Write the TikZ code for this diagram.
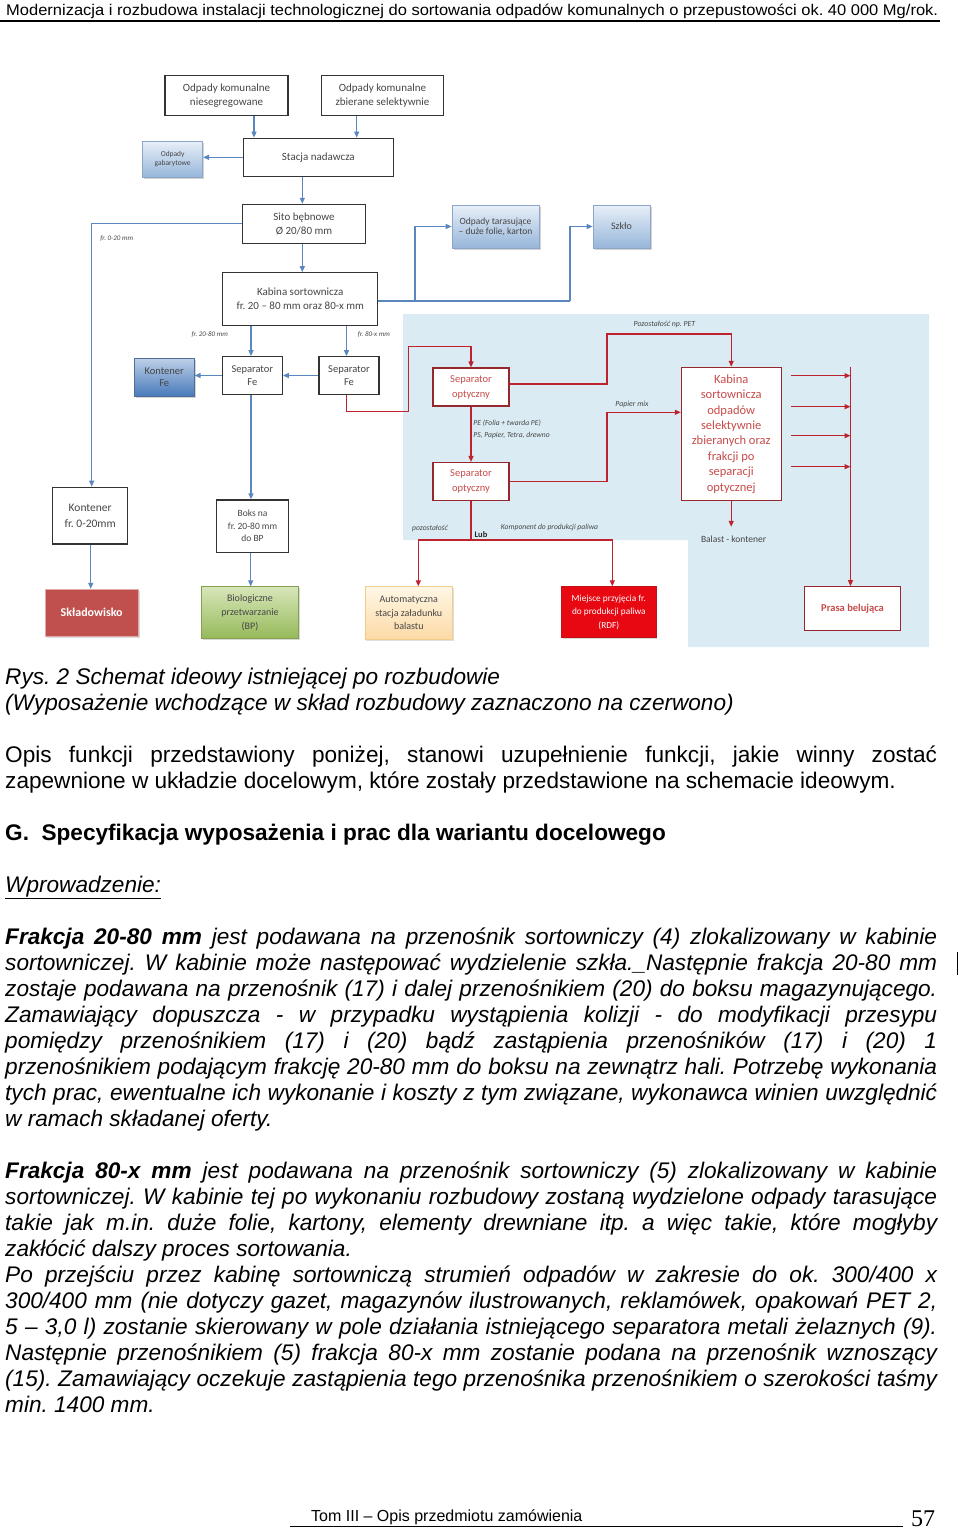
\documentclass[tikz,border=0pt]{standalone}
\usepackage{fontspec}
\usepackage{graphicx}
\setmainfont{Liberation Sans}
\newfontfamily\diag{Carlito}
\newfontfamily\pgnum{Liberation Serif}
\usetikzlibrary{arrows.meta,shadows}
\definecolor{bluec}{RGB}{90,135,190}
\definecolor{redc}{RGB}{190,35,45}
\definecolor{redb}{RGB}{150,40,45}
\definecolor{redt}{RGB}{200,75,75}
\definecolor{bgblue}{RGB}{218,235,243}
\definecolor{gtxt}{RGB}{70,70,70}
\begin{document}
\frenchspacing
\begin{tikzpicture}[x=1pt,y=-1pt,
  bline/.style={draw=bluec,line width=1.3pt},
  barrow/.style={bline,-{Triangle[length=6pt,width=5pt]}},
  rline/.style={draw=redc,line width=1.3pt},
  rarrow/.style={rline,-{Triangle[length=6pt,width=5pt]}},
  sz/.style 2 args={minimum width=#1pt,minimum height=#2pt},
  bx/.style={draw=black!80,line width=1.1pt,fill=white,text=gtxt,align=center,inner sep=0pt,
    font=\diag\fontsize{11}{14}\selectfont},
  rbx/.style={draw=redb,line width=1.1pt,fill=white,text=redt,align=center,inner sep=0pt,
    font=\diag\fontsize{10.5}{15}\selectfont},
  blubx/.style={draw={rgb,255:red,140;green,165;blue,200},line width=0.6pt,
    top color={rgb,255:red,232;green,239;blue,248},bottom color={rgb,255:red,150;green,182;blue,218},
    text=gtxt,align=center,inner sep=0pt,
    drop shadow={shadow xshift=1.5pt,shadow yshift=-1.5pt,opacity=0.35}},
  lab/.style={inner sep=0pt,text=gtxt,font=\diag\itshape\fontsize{7}{8}\selectfont},
  tl/.style={anchor=base west,inner sep=0pt,font=\fontsize{22.6}{26}\selectfont\itshape}
]
\useasboundingbox (0,0) rectangle (960,1529);

% ---------- header ----------
\node[anchor=base west,inner sep=0pt] (hdr) at (6,15)
  {\resizebox{932pt}{\height}{\fontsize{15.5}{18}\selectfont Modernizacja i rozbudowa instalacji technologicznej do sortowania odpadów komunalnych o przepustowości ok. 40 000 Mg/rok.}};
\draw[line width=2pt] (0,20.5) -- (940,20.5);

% ---------- light blue area ----------
\fill[bgblue] (403,314) -- (929,314) -- (929,647) -- (688,647) -- (688,540) -- (403,540) -- cycle;

% ---------- diagram nodes ----------
\node[bx,sz={123}{40}] (nk1) at (226.5,95.5) {Odpady komunalne\\niesegregowane};
\node[bx,sz={122}{40}] (nk2) at (382.5,95.5) {Odpady komunalne\\zbierane selektywnie};
\node[bx,sz={150}{38}] (stacja) at (318.3,157.2) {Stacja nadawcza};
\node[blubx,sz={60}{36},font=\diag\fontsize{7.5}{9}\selectfont] (gab) at (172.7,159.2) {Odpady\\gabarytowe};
\node[bx,sz={123}{39}] (sito) at (304,223.8) {Sito bębnowe\\Ø 20/80 mm};
\node[bx,sz={155}{53}] (kab1) at (300.2,299.2) {Kabina sortownicza\\fr. 20 – 80 mm oraz 80-x mm};
\node[blubx,sz={87}{43},font=\diag\fontsize{9.5}{10}\selectfont] (tar) at (495.5,226.5) {Odpady tarasujące\\– duże folie, karton};
\node[blubx,sz={57}{43},font=\diag\fontsize{10}{12}\selectfont] (szk) at (621.5,226.5) {Szkło};
\node[bx,sz={60}{37.6},font=\diag\fontsize{10.5}{13}\selectfont] (sfe1) at (252.3,375.5) {Separator\\Fe};
\node[bx,sz={60}{37.6},font=\diag\fontsize{10.5}{13}\selectfont] (sfe2) at (349,375.5) {Separator\\Fe};
\node[blubx,sz={60}{38.4},font=\diag\fontsize{10.5}{12}\selectfont,
  top color={rgb,255:red,190;green,208;blue,232},bottom color={rgb,255:red,70;green,120;blue,185},
  draw={rgb,255:red,80;green,110;blue,150}] (kfe) at (164.2,377.5) {Kontener\\Fe};
\node[bx,sz={75}{56.7},font=\diag\fontsize{11.5}{16}\selectfont] (k020) at (90.2,515.6) {Kontener\\fr. 0-20mm};
\node[bx,sz={71.6}{52.3},font=\diag\fontsize{9.5}{12.5}\selectfont] (boks) at (252.5,526.1) {Boks na\\fr. 20-80 mm\\do BP};
\node[rbx,sz={76}{38}] (sop1) at (471,387) {Separator\\optyczny};
\node[rbx,sz={76}{38}] (sop2) at (471,481.5) {Separator\\optyczny};
\node[rbx,sz={99.7}{133.4},font=\diag\fontsize{12.5}{15.4}\selectfont] (kab2) at (731.2,434)
  {Kabina\\sortownicza\\odpadów\\selektywnie\\zbieranych oraz\\frakcji po\\separacji\\optycznej};
\node[rbx,sz={96.4}{44},font=\diag\bfseries\fontsize{10.5}{13}\selectfont] (prasa) at (852.5,608.7) {Prasa belująca};
\node[sz={93.3}{46.7},fill={rgb,255:red,192;green,80;blue,77},draw={rgb,255:red,225;green,170;blue,168},line width=1pt,
  text=white,font=\diag\bfseries\fontsize{12}{14}\selectfont,inner sep=0pt,
  drop shadow={shadow xshift=1.5pt,shadow yshift=-1.5pt,opacity=0.3}] (skl) at (91.7,612.7) {Składowisko};
\node[sz={96.6}{51.6},top color={rgb,255:red,215;green,230;blue,185},bottom color={rgb,255:red,150;green,186;blue,90},
  draw={rgb,255:red,130;green,160;blue,80},line width=0.6pt,text=gtxt,align=center,inner sep=0pt,
  font=\diag\fontsize{10}{14}\selectfont,
  drop shadow={shadow xshift=1.5pt,shadow yshift=-1.5pt,opacity=0.3}] (bio) at (250,612.5) {Biologiczne\\przetwarzanie\\(BP)};
\node[sz={87.7}{52.6},top color={rgb,255:red,255;green,247;blue,230},bottom color={rgb,255:red,252;green,218;blue,165},
  draw={rgb,255:red,240;green,205;blue,140},line width=0.8pt,text=gtxt,align=center,inner sep=0pt,
  font=\diag\fontsize{10}{13.5}\selectfont,
  drop shadow={shadow xshift=1.5pt,shadow yshift=-1.5pt,opacity=0.25}] (auto) at (408.8,613) {Automatyczna\\stacja załadunku\\balastu};
\node[sz={94.3}{50.6},fill={rgb,255:red,232;green,8;blue,18},draw={rgb,255:red,190;green,20;blue,25},line width=0.8pt,
  text=white,align=center,inner sep=0pt,font=\diag\fontsize{9.3}{13.5}\selectfont,
  drop shadow={shadow xshift=1.5pt,shadow yshift=-1.5pt,opacity=0.3}] (rdf) at (608.8,612) {Miejsce przyjęcia fr.\\do produkcji paliwa\\(RDF)};
\node[inner sep=0pt,sz={70}{24},text=gtxt,font=\diag\fontsize{9.5}{11}\selectfont] (balast) at (733.6,539) {Balast - kontener};

% ---------- labels ----------
\node[lab] (l1) at (116.7,238.3) {fr. 0-20 mm};
\node[lab] (l2) at (209.7,335) {fr. 20-80 mm};
\node[lab] (l3) at (373.8,335) {fr. 80-x mm};
\node[lab,font=\diag\itshape\fontsize{7.8}{9}\selectfont] (l4) at (664.5,324) {Pozostałość np. PET};
\node[lab,font=\diag\itshape\fontsize{7.8}{9}\selectfont] (l5) at (632,404) {Papier mix};
\node[lab,anchor=west,font=\diag\itshape\fontsize{7.6}{9}\selectfont] (l6) at (473.2,423.3) {PE (Folia + twarda PE)};
\node[lab,anchor=west,font=\diag\itshape\fontsize{7.6}{9}\selectfont] (l7) at (473.2,435) {PS, Papier, Tetra, drewno};
\node[lab,font=\diag\itshape\fontsize{7.6}{9}\selectfont] (l8) at (430,528.3) {pozostałość};
\node[inner sep=0pt,text=black!85,font=\diag\bfseries\fontsize{8.5}{10}\selectfont] (lub) at (481,535) {Lub};
\node[lab,font=\diag\itshape\fontsize{7.6}{9}\selectfont] (l9) at (549.5,528) {Komponent do produkcji paliwa};

% ---------- blue connectors ----------
\draw[barrow] (nk1.south -| 254,0) -- (stacja.north -| 254,0);
\draw[barrow] (nk2.south -| 356.7,0) -- (stacja.north -| 356.7,0);
\draw[barrow] (stacja.west |- 0,157.3) -- (gab.east |- 0,157.3);
\draw[barrow] (stacja.south -| 302.3,0) -- (sito.north -| 302.3,0);
\draw[barrow] (sito.south -| 302.3,0) -- (kab1.north -| 302.3,0);
\draw[barrow] (sito.west) -| (k020.north -| 91.7,0);
\coordinate (j1) at (415,301);
\coordinate (j2) at (570,301);
\draw[bline] (kab1.east |- j1) -- (j2);
\draw[barrow] (j1) |- (tar.west);
\draw[barrow] (j2) |- (szk.west);
\draw[barrow] (kab1.south -| 251,0) -- (sfe1.north -| 251,0);
\draw[barrow] (kab1.south -| 346.5,0) -- (sfe2.north -| 346.5,0);
\draw[barrow] (sfe2.west) -- (sfe1.east);
\draw[barrow] (sfe1.west) -- (kfe.east |- sfe1.west);
\draw[barrow] (sfe1.south -| 251,0) -- (boks.north -| 251,0);
\draw[barrow] (k020.south -| 90.7,0) -- (skl.north -| 90.7,0);
\draw[barrow] (boks.south -| 250.7,0) -- (bio.north -| 250.7,0);

% ---------- red connectors ----------
\draw[rarrow] (sfe2.south -| 346.5,0) -- (346.5,411.7) -- (408.3,411.7) -- (408.3,346.7) -- (471,346.7) -- (sop1.north);
\draw[rarrow] (sop1.south) -- (sop2.north);
\draw[rarrow] (sop1.east |- 0,384) -- (607,384) -- (607,334) -- (kab2.north |- 0,334) -- (kab2.north);
\draw[rarrow] (sop2.east |- 0,481.7) -- (607,481.7) -- (607,412.3) -- (kab2.west |- 0,412.3);
\coordinate (rv) at (850.5,366.7);
\path (kab2.east) ++(9,0) coordinate (k2e);
\foreach \yy in {375.7,406.7,435.7,466.7}
  \draw[rarrow] (k2e |- 0,\yy) -- (rv |- 0,\yy);
\draw[rarrow] (rv) -- (prasa.north -| rv);
\draw[rarrow] (kab2.south) -- (balast.north -| kab2.south);
\coordinate (lubj) at (471,540);
\draw[rline] (sop2.south) -- (lubj);
\draw[rarrow] (lubj) -| (auto.north -| 418.3,0);
\draw[rarrow] (lubj) -| (rdf.north -| 612.3,0);

% ---------- text ----------
\node[tl] (t1) at (5,684) {Rys. 2 Schemat ideowy istniejącej po rozbudowie};
\node[tl] (t2) at (5,710) {(Wyposażenie wchodzące w skład rozbudowy zaznaczono na czerwono)};
\node[tl,font=\fontsize{22.6}{26}\selectfont] (t3) at (5,762) {\makebox[932pt][s]{Opis funkcji przedstawiony poniżej, stanowi uzupełnienie funkcji, jakie winny zostać}};
\node[tl,font=\fontsize{22.6}{26}\selectfont] (t4) at (5,788) {zapewnione w układzie docelowym, które zostały przedstawione na schemacie ideowym.};
\node[tl,font=\fontsize{22.6}{26}\selectfont\bfseries] (t5) at (5,840) {G.\ \ Specyfikacja wyposażenia i prac dla wariantu docelowego};
\node[tl] (t6) at (5,892) {\underline{Wprowadzenie:}};
\node[tl] (t7) at (5,944) {\makebox[932pt][s]{\textbf{Frakcja 20-80 mm} jest podawana na przenośnik sortowniczy (4) zlokalizowany w kabinie}};
\node[tl] (t8) at (5,970) {\makebox[932pt][s]{sortowniczej. W kabinie może następować wydzielenie szkła.\_Następnie frakcja 20-80 mm}};
\node[tl] (t9) at (5,996) {\makebox[932pt][s]{zostaje podawana na przenośnik (17) i dalej przenośnikiem (20) do boksu magazynującego.}};
\node[tl] (t10) at (5,1022) {\makebox[932pt][s]{Zamawiający dopuszcza - w przypadku wystąpienia kolizji - do modyfikacji przesypu}};
\node[tl] (t11) at (5,1048) {\makebox[932pt][s]{pomiędzy przenośnikiem (17) i (20) bądź zastąpienia przenośników (17) i (20) 1}};
\node[tl] (t12) at (5,1074) {\makebox[932pt][s]{przenośnikiem podającym frakcję 20-80 mm do boksu na zewnątrz hali. Potrzebę wykonania}};
\node[tl] (t13) at (5,1100) {\makebox[932pt][s]{tych prac, ewentualne ich wykonanie i koszty z tym związane, wykonawca winien uwzględnić}};
\node[tl] (t14) at (5,1126) {w ramach składanej oferty.};
\node[tl] (t15) at (5,1178) {\makebox[932pt][s]{\textbf{Frakcja 80-x mm} jest podawana na przenośnik sortowniczy (5) zlokalizowany w kabinie}};
\node[tl] (t16) at (5,1204) {\makebox[932pt][s]{sortowniczej. W kabinie tej po wykonaniu rozbudowy zostaną wydzielone odpady tarasujące}};
\node[tl] (t17) at (5,1230) {\makebox[932pt][s]{takie jak m.in. duże folie, kartony, elementy drewniane itp. a więc takie, które mogłyby}};
\node[tl] (t18) at (5,1256) {zakłócić dalszy proces sortowania.};
\node[tl] (t19) at (5,1282) {\makebox[932pt][s]{Po przejściu przez kabinę sortowniczą strumień odpadów w zakresie do ok. 300/400 x}};
\node[tl] (t20) at (5,1308) {\makebox[932pt][s]{300/400 mm (nie dotyczy gazet, magazynów ilustrowanych, reklamówek, opakowań PET 2,}};
\node[tl] (t21) at (5,1334) {\makebox[932pt][s]{5 – 3,0 l) zostanie skierowany w pole działania istniejącego separatora metali żelaznych (9).}};
\node[tl] (t22) at (5,1360) {\makebox[932pt][s]{Następnie przenośnikiem (5) frakcja 80-x mm zostanie podana na przenośnik wznoszący}};
\node[tl] (t23) at (5,1386) {\makebox[932pt][s]{(15). Zamawiający oczekuje zastąpienia tego przenośnika przenośnikiem o szerokości taśmy}};
\node[tl] (t24) at (5,1412) {min. 1400 mm.};
\draw[line width=0.8pt] (957,952) -- (957,975);

% ---------- footer ----------
\node[anchor=base west,inner sep=0pt] (ftr) at (311,1521) {\fontsize{16}{18}\selectfont Tom III – Opis przedmiotu zamówienia};
\draw[line width=1pt] (290,1526.5) -- (903,1526.5);
\node[anchor=base west,inner sep=0pt] (pg) at (911,1526) {\pgnum\fontsize{24}{26}\selectfont 57};
\end{tikzpicture}
\end{document}
